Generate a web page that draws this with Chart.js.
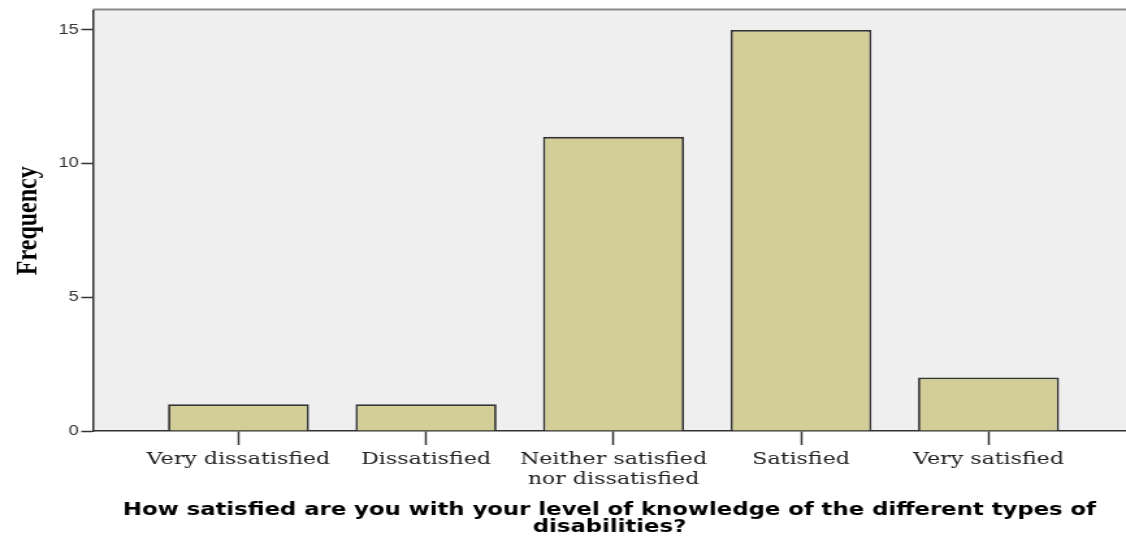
<!DOCTYPE html>
<html>
<head>
<meta charset="utf-8">
<script src="https://cdn.jsdelivr.net/npm/chart.js@4"></script>
<style>
  body { margin: 0; background: #fff; overflow: hidden; }
  /* the reference picture is stretched sideways, so draw narrower and widen */
  #wrap { width: 866px; height: 540px; transform: scaleX(1.30023); transform-origin: 0 0; }
</style>
</head>
<body>
<div id="wrap"><canvas id="freqChart"></canvas></div>
<script>
const categories = [
  "Very dissatisfied",
  "Dissatisfied",
  ["Neither satisfied", "nor dissatisfied"],
  "Satisfied",
  "Very satisfied"
];
const frequencies = [1, 1, 11, 15, 2];
const yTicks = [0, 5, 10, 15];

const plotBackground = {
  id: "plotBackground",
  beforeDraw(chart) {
    const { ctx, chartArea: a } = chart;
    ctx.save();
    ctx.fillStyle = "#efefef";
    ctx.fillRect(a.left, a.top, a.right - a.left, a.bottom - a.top);
    ctx.strokeStyle = "#8a8a8a";
    ctx.lineWidth = 2;
    ctx.beginPath();
    ctx.moveTo(a.left, a.top - 1);
    ctx.lineTo(a.right, a.top - 1);
    ctx.stroke();
    ctx.restore();
  }
};

document.addEventListener("DOMContentLoaded", () => {
  const ctx = document.getElementById("freqChart").getContext("2d");

  new Chart(ctx, {
    type: "bar",
    data: {
      datasets: [{
        data: frequencies.map((v, i) => ({ x: i, y: v })),
        backgroundColor: "#d3cd97",
        borderColor: "#333",
        borderWidth: 1.8,
        barPercentage: 0.752,
        categoryPercentage: 1
      }]
    },
    options: {
      responsive: true,
      maintainAspectRatio: false,
      animation: false,
      layout: { padding: { top: 0, right: 0, left: 0, bottom: 0 } },
      plugins: {
        legend: { display: false },
        tooltip: { enabled: false }
      },
      scales: {
        x: {
          type: "linear",
          offset: false,
          min: -0.776,
          max: 4.733,
          afterFit: (scale) => { scale.height = 109; },
          grid: {
            offset: false,
            drawOnChartArea: false,
            drawTicks: true,
            tickLength: 14,
            tickWidth: 1.5,
            color: "#333"
          },
          border: { display: true, color: "#333", width: 1.5 },
          ticks: {
            stepSize: 1,
            includeBounds: false,
            autoSkip: false,
            maxRotation: 0,
            padding: 4,
            color: "#222",
            font: { family: "DejaVu Serif", size: 17, lineHeight: 1.2 },
            callback: (value) => categories[value]
          },
          title: {
            display: true,
            text: ["How satisfied are you with your level of knowledge of the different types of", "disabilities?"],
            color: "#000",
            font: { family: "DejaVu Sans", weight: "bold", size: 17.5, lineHeight: 0.98 },
            padding: { top: 0, bottom: 4 }
          }
        },
        y: {
          min: 0,
          max: 15.73,
          afterFit: (scale) => { scale.width = 71.5; },
          afterBuildTicks: (scale) => { scale.ticks = yTicks.map(v => ({ value: v })); },
          grid: {
            drawOnChartArea: false,
            drawTicks: true,
            tickLength: 9,
            tickWidth: 1.5,
            color: "#333"
          },
          border: { display: true, color: "#333", width: 1.5 },
          ticks: {
            padding: 2,
            color: "#333",
            font: { family: "Liberation Sans", size: 14 }
          },
          title: {
            display: true,
            text: "Frequency",
            color: "#000",
            font: { family: "Liberation Serif", weight: "bold", size: 24, lineHeight: 1.2 },
            padding: { top: 7, bottom: 0 }
          }
        }
      }
    },
    plugins: [plotBackground]
  });
});
</script>
</body>
</html>
